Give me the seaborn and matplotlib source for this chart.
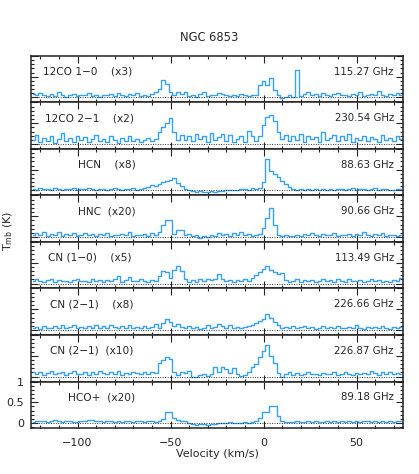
import numpy as np
import pandas as pd
import matplotlib
matplotlib.use('Agg')
import matplotlib.pyplot as plt
import seaborn as sns
from matplotlib.ticker import MultipleLocator

# velocity channels (km/s), 2 km/s wide
velocity = np.arange(-124, 76, 2)

left_labels = ['12CO 1\u22120    (x3)', '12CO 2\u22121    (x2)', 'HCN    (x8)', 'HNC  (x20)',
               'CN (1\u22120)    (x5)', 'CN (2\u22121)    (x8)', 'CN (2\u22121)  (x10)', 'HCO+  (x20)']
right_labels = ['115.27 GHz', '230.54 GHz', '88.63 GHz', '90.66 GHz',
                '113.49 GHz', '226.66 GHz', '226.87 GHz', '89.18 GHz']
label_x = [-118.5, -117.5, -100, -100, -116, -115, -115, -105]

co10 = [0.08, 0.05, 0.10, 0.06, 0.03, 0.09, 0.04, 0.14, 0.05, 0.02,
        0.06, 0.08, 0.03, 0.07, 0.05, 0.10, 0.04, 0.06, 0.02, 0.07,
        0.05, 0.09, 0.04, 0.11, 0.06, 0.03, 0.08, 0.05, 0.10, 0.04,
        0.06, 0.03, 0.08, 0.12, 0.20, 0.42, 0.32, 0.14, 0.05, 0.12,
        0.08, 0.14, 0.03, 0.06, 0.02, 0.09, 0.12, 0.04, 0.07, 0.05,
        0.11, 0.08, 0.06, 0.03, 0.07, 0.04, 0.09, 0.05, 0.03, 0.06,
        0.05, 0.30, 0.40, 0.30, 0.46, 0.18, 0.05, -0.02, 0.02, 0.06,
        0.02, 0.67, 0.04, 0.08, 0.12, 0.05, 0.09, 0.03, 0.10, 0.06,
        0.04, 0.09, 0.11, 0.05, 0.07, 0.03, 0.08, 0.06, 0.12, 0.04,
        0.06, 0.09, 0.05, 0.16, 0.07, 0.04, 0.08, 0.06, 0.10, 0.05]

co21 = [0.10, 0.22, 0.04, 0.15, 0.08, 0.18, 0.03, 0.12, 0.26, 0.06,
        0.14, 0.05, 0.20, 0.09, 0.16, 0.04, 0.11, 0.22, 0.07, 0.13,
        0.05, 0.18, 0.10, 0.03, 0.14, 0.08, 0.20, 0.06, 0.12, 0.04,
        0.09, 0.15, 0.06, 0.12, 0.28, 0.42, 0.50, 0.62, 0.28, 0.10,
        0.22, 0.10, 0.18, 0.06, 0.24, 0.12, 0.20, 0.05, 0.27, 0.10,
        0.16, 0.25, 0.08, 0.22, 0.05, 0.12, 0.20, 0.04, 0.32, 0.18,
        0.06, 0.20, 0.45, 0.66, 0.70, 0.55, 0.30, 0.12, 0.22, 0.08,
        0.18, 0.10, 0.25, 0.05, 0.20, 0.12, 0.16, 0.04, 0.28, 0.09,
        0.14, 0.22, 0.06, 0.18, 0.10, 0.25, 0.05, 0.15, 0.09, 0.20,
        0.07, 0.16, 0.12, 0.04, 0.21, 0.10, 0.15, 0.06, 0.18, 0.11]

hcn = [0.03, 0.02, 0.05, 0.03, 0.04, 0.02, 0.06, 0.03, 0.02, 0.04,
       0.03, 0.05, 0.02, 0.04, 0.03, 0.05, 0.04, 0.02, 0.03, 0.04,
       0.02, 0.03, 0.05, 0.03, 0.02, 0.04, 0.03, 0.05, 0.02, 0.04,
       0.05, 0.08, 0.12, 0.10, 0.16, 0.20, 0.24, 0.26, 0.30, 0.18,
       0.10, 0.04, 0.00, -0.02, -0.03, -0.02, -0.04, -0.03, -0.02, -0.03,
       -0.02, -0.01, 0.01, 0.00, 0.02, 0.01, 0.03, 0.04, 0.02, 0.05,
       0.03, 0.06, 0.20, 0.76, 0.46, 0.40, 0.32, 0.24, 0.16, 0.08,
       0.03, 0.02, 0.03, 0.02, 0.03, 0.01, 0.03, 0.02, 0.04, 0.02,
       0.03, 0.02, 0.04, 0.03, 0.02, 0.03, 0.05, 0.02, 0.03, 0.04,
       0.02, 0.03, 0.05, 0.02, 0.04, 0.03, 0.01, 0.02, 0.04, 0.03]

hnc = [0.06, 0.10, 0.04, 0.12, 0.03, 0.08, 0.05, 0.11, 0.02, 0.07,
       0.05, 0.09, 0.03, 0.06, 0.10, 0.04, 0.07, 0.02, 0.08, 0.05,
       0.09, 0.03, 0.06, 0.04, 0.08, 0.05, 0.12, 0.03, 0.06, 0.04,
       0.07, 0.03, 0.10, 0.05, 0.12, 0.30, 0.42, 0.40, 0.08, 0.18,
       0.16, 0.05, 0.08, 0.02, 0.04, -0.02, 0.03, 0.01, 0.06, 0.02,
       0.10, 0.04, 0.08, 0.03, 0.09, 0.05, 0.11, 0.04, 0.07, 0.03,
       0.06, 0.08, 0.22, 0.46, 0.69, 0.30, 0.06, 0.02, 0.05, 0.03,
       0.03, 0.05, 0.02, 0.07, 0.04, 0.10, 0.06, 0.03, 0.08, 0.05,
       0.04, 0.09, 0.03, 0.06, 0.05, 0.08, 0.02, 0.07, 0.04, 0.12,
       0.05, 0.03, 0.07, 0.04, 0.09, 0.02, 0.06, 0.04, 0.03, 0.05]

cn10 = [0.05, 0.10, 0.06, 0.03, 0.08, 0.12, 0.04, 0.09, 0.05, 0.07,
        0.03, 0.08, 0.11, 0.05, 0.07, 0.04, 0.10, 0.06, 0.09, 0.03,
        0.08, 0.05, 0.12, 0.18, 0.04, 0.09, 0.15, 0.07, 0.05, 0.10,
        0.06, 0.04, 0.09, 0.05, 0.18, 0.30, 0.28, 0.14, 0.32, 0.43,
        0.30, 0.10, 0.03, 0.08, 0.04, 0.10, 0.06, 0.12, 0.08, 0.10,
        0.22, 0.12, 0.06, 0.09, 0.04, 0.08, 0.05, 0.10, 0.07, 0.14,
        0.20, 0.28, 0.36, 0.43, 0.32, 0.28, 0.22, 0.26, 0.08, 0.04,
        0.06, 0.10, 0.03, 0.08, 0.05, 0.09, 0.04, 0.07, 0.11, 0.05,
        0.08, 0.04, 0.10, 0.06, 0.03, 0.12, 0.07, 0.05, 0.09, 0.04,
        0.06, 0.10, 0.05, 0.08, 0.04, 0.07, 0.03, 0.09, 0.05, 0.14]

cn21a = [0.04, 0.08, 0.03, 0.10, 0.06, 0.05, 0.09, 0.04, 0.11, 0.06,
         0.07, 0.12, 0.05, 0.08, 0.04, 0.10, 0.06, 0.13, 0.05, 0.09,
         0.04, 0.11, 0.07, 0.05, 0.09, 0.06, 0.12, 0.04, 0.08, 0.06,
         0.10, 0.05, 0.08, 0.14, 0.06, 0.18, 0.26, 0.20, 0.10, 0.14,
         0.08, 0.05, 0.10, 0.04, 0.07, 0.03, 0.06, 0.12, 0.05, 0.08,
         0.14, 0.10, 0.06, 0.11, 0.05, 0.08, 0.04, 0.07, 0.10, 0.12,
         0.18, 0.22, 0.26, 0.38, 0.30, 0.20, 0.12, 0.06, 0.08, 0.05,
         0.09, 0.04, 0.07, 0.10, 0.05, 0.08, 0.03, 0.06, 0.09, 0.04,
         0.07, 0.05, 0.10, 0.06, 0.04, 0.08, 0.05, 0.11, 0.06, 0.03,
         0.08, 0.05, 0.07, 0.04, 0.10, 0.06, 0.03, 0.08, 0.05, 0.07]

cn21b = [0.10, 0.06, 0.12, 0.04, 0.09, 0.14, 0.05, 0.08, 0.11, 0.03,
         0.09, 0.13, 0.05, 0.07, 0.12, 0.04, 0.10, 0.06, 0.14, 0.08,
         0.05, 0.11, 0.07, 0.13, 0.04, 0.09, 0.06, 0.12, 0.08, 0.05,
         0.10, 0.06, 0.12, 0.08, 0.32, 0.40, 0.48, 0.42, 0.12, 0.04,
         0.12, 0.08, 0.14, -0.02, 0.00, 0.03, 0.06, 0.02, 0.05, 0.22,
         0.10, 0.24, 0.18, 0.08, 0.20, 0.06, 0.02, 0.04, 0.10, 0.24,
         0.30, 0.48, 0.62, 0.76, 0.50, 0.32, 0.08, 0.00, 0.06, 0.10,
         0.04, 0.08, 0.03, 0.06, 0.10, 0.05, 0.07, 0.03, 0.09, 0.06,
         0.05, 0.10, 0.04, 0.07, 0.12, 0.06, 0.03, 0.09, 0.05, 0.08,
         0.06, 0.14, 0.08, 0.04, 0.10, 0.07, 0.12, 0.05, 0.09, 0.06]

hcop = [0.03, 0.05, 0.04, 0.06, 0.02, 0.05, 0.07, 0.04, 0.03, 0.05,
        0.04, 0.02, 0.03, 0.06, 0.05, 0.08, 0.07, 0.04, 0.05, 0.03,
        0.04, 0.06, 0.03, 0.05, 0.02, 0.04, 0.06, 0.03, 0.05, 0.04,
        0.03, 0.05, 0.04, 0.02, 0.06, 0.10, 0.26, 0.26, 0.12, 0.08,
        0.06, 0.04, 0.01, -0.03, -0.04, -0.02, -0.03, -0.04, -0.02, -0.03,
        -0.01, 0.01, 0.00, 0.02, -0.01, 0.01, 0.00, 0.02, 0.01, 0.03,
        0.06, 0.12, 0.26, 0.26, 0.41, 0.41, 0.17, 0.04, 0.02, 0.03,
        0.02, 0.04, 0.03, 0.02, 0.05, 0.03, 0.04, 0.02, 0.03, 0.05,
        0.03, 0.05, 0.02, 0.04, 0.03, 0.06, 0.02, 0.04, 0.03, 0.05,
        0.04, 0.02, 0.05, 0.03, 0.06, 0.02, 0.04, 0.03, 0.05, 0.06]

spectra = [co10, co21, hcn, hnc, cn10, cn21a, cn21b, hcop]

sns.set_style('ticks')
plt.rcParams['font.family'] = ['DejaVu Sans']
plt.rcParams['font.size'] = 7

fig, axes = plt.subplots(8, 1, figsize=(4.19, 4.74), dpi=100, sharex=True,
                         gridspec_kw={'hspace': 0})
fig.subplots_adjust(left=0.074, right=0.962, top=0.882, bottom=0.097)

line_color = '#37a0f8'
for k, ax in enumerate(axes):
    df = pd.DataFrame({'v': velocity, 'T': spectra[k]})
    sns.lineplot(data=df, x='v', y='T', ax=ax, color=line_color, lw=1.0,
                 drawstyle='steps-mid', estimator=None, sort=False)
    ax.axhline(0, color='#333333', lw=0.7, ls=(0, (1, 1.5)))
    ax.set_xlim(-125, 75)
    ax.set_ylim(-0.12, 1.0)
    ax.set_xlabel('')
    ax.set_ylabel('')
    ax.xaxis.set_major_locator(MultipleLocator(50))
    ax.xaxis.set_minor_locator(MultipleLocator(10))
    ax.yaxis.set_major_locator(MultipleLocator(0.5))
    ax.yaxis.set_minor_locator(MultipleLocator(0.1))
    ax.tick_params(which='both', direction='in', top=True, right=True,
                   color='#222222', width=0.8)
    ax.tick_params(which='major', length=5)
    ax.tick_params(which='minor', length=2.5)
    for s in ax.spines.values():
        s.set_linewidth(1.1)
        s.set_color('#222222')
    if k < 7:
        ax.tick_params(labelleft=False)
    ax.text(label_x[k], 0.62, left_labels[k], fontsize=7.6, ha='left', va='center')
    ax.text(70, 0.62, right_labels[k], fontsize=7.3, ha='right', va='center')

axes[-1].set_yticks([0, 0.5, 1])
axes[-1].set_yticklabels(['0', '0.5', '1'])
axes[-1].tick_params(axis='both', labelsize=8, pad=5)
axes[-1].tick_params(axis='x', pad=7)
axes[-1].set_xlabel('Velocity (km/s)', fontsize=8, labelpad=1)

fig.text(0.5, 0.92, 'NGC 6853', ha='center', va='center', fontsize=8.3)
fig.text(0.02, 0.512, r'T$_{\rm mb}$ (K)', rotation=90, ha='center', va='center',
         fontsize=8)

fig.savefig('out.png', dpi=100)
